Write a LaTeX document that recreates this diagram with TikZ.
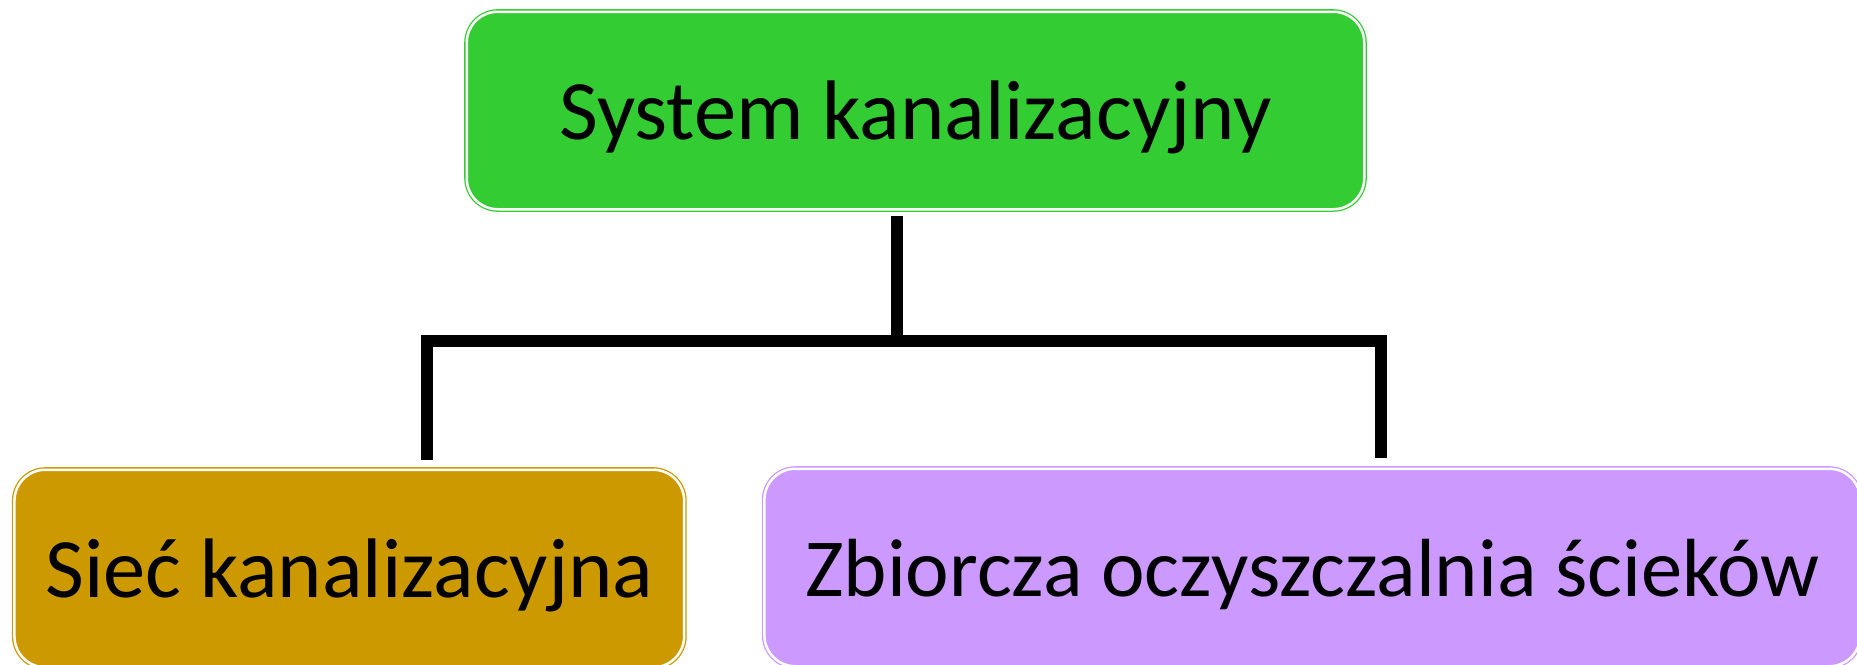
\documentclass[tikz,border=0pt]{standalone}
\usepackage{fontspec}
\setmainfont{Carlito}
\definecolor{boxgreen}{HTML}{33CC33}
\definecolor{boxgold}{HTML}{CC9900}
\definecolor{boxpurple}{HTML}{CC99FF}
\begin{document}
\begin{tikzpicture}[x=1pt,y=-1pt,
  box/.style={draw=#1, fill=#1, double=white, double distance=2.5pt, line width=1.3pt,
    rounded corners=31pt, inner sep=0pt, minimum height=197.5pt,
    text height=57pt, text depth=0pt,
    font=\fontsize{84.5}{90}\selectfont, text=black},
  conn/.style={line width=12pt, line cap=butt, line join=miter, draw=black}]
\useasboundingbox (0,0) rectangle (1857,664);
\clip (0,0) rectangle (1857,664);
\node[box=boxgreen, minimum width=897.5pt] (top) at (915.5,110.5) {System kanalizacyjny};
\node[box=boxgold, minimum width=669.7pt] (left) at (349.3,568.5) {Sieć kanalizacyjna};
\node[box=boxpurple, minimum width=1095.8pt, font=\fontsize{82.5}{90}\selectfont] (right) at (1312.3,567.5) {Zbiorcza oczyszczalnia ścieków};
\coordinate (t) at (897,216);
\coordinate (j) at (897,341);
\coordinate (lb) at (427,460);
\coordinate (rb) at (1381,458);
\draw[conn] (t) -- ([yshift=6pt]j);
\draw[conn] (lb) -- (lb |- j) -- (rb |- j) -- (rb);
\end{tikzpicture}
\end{document}
